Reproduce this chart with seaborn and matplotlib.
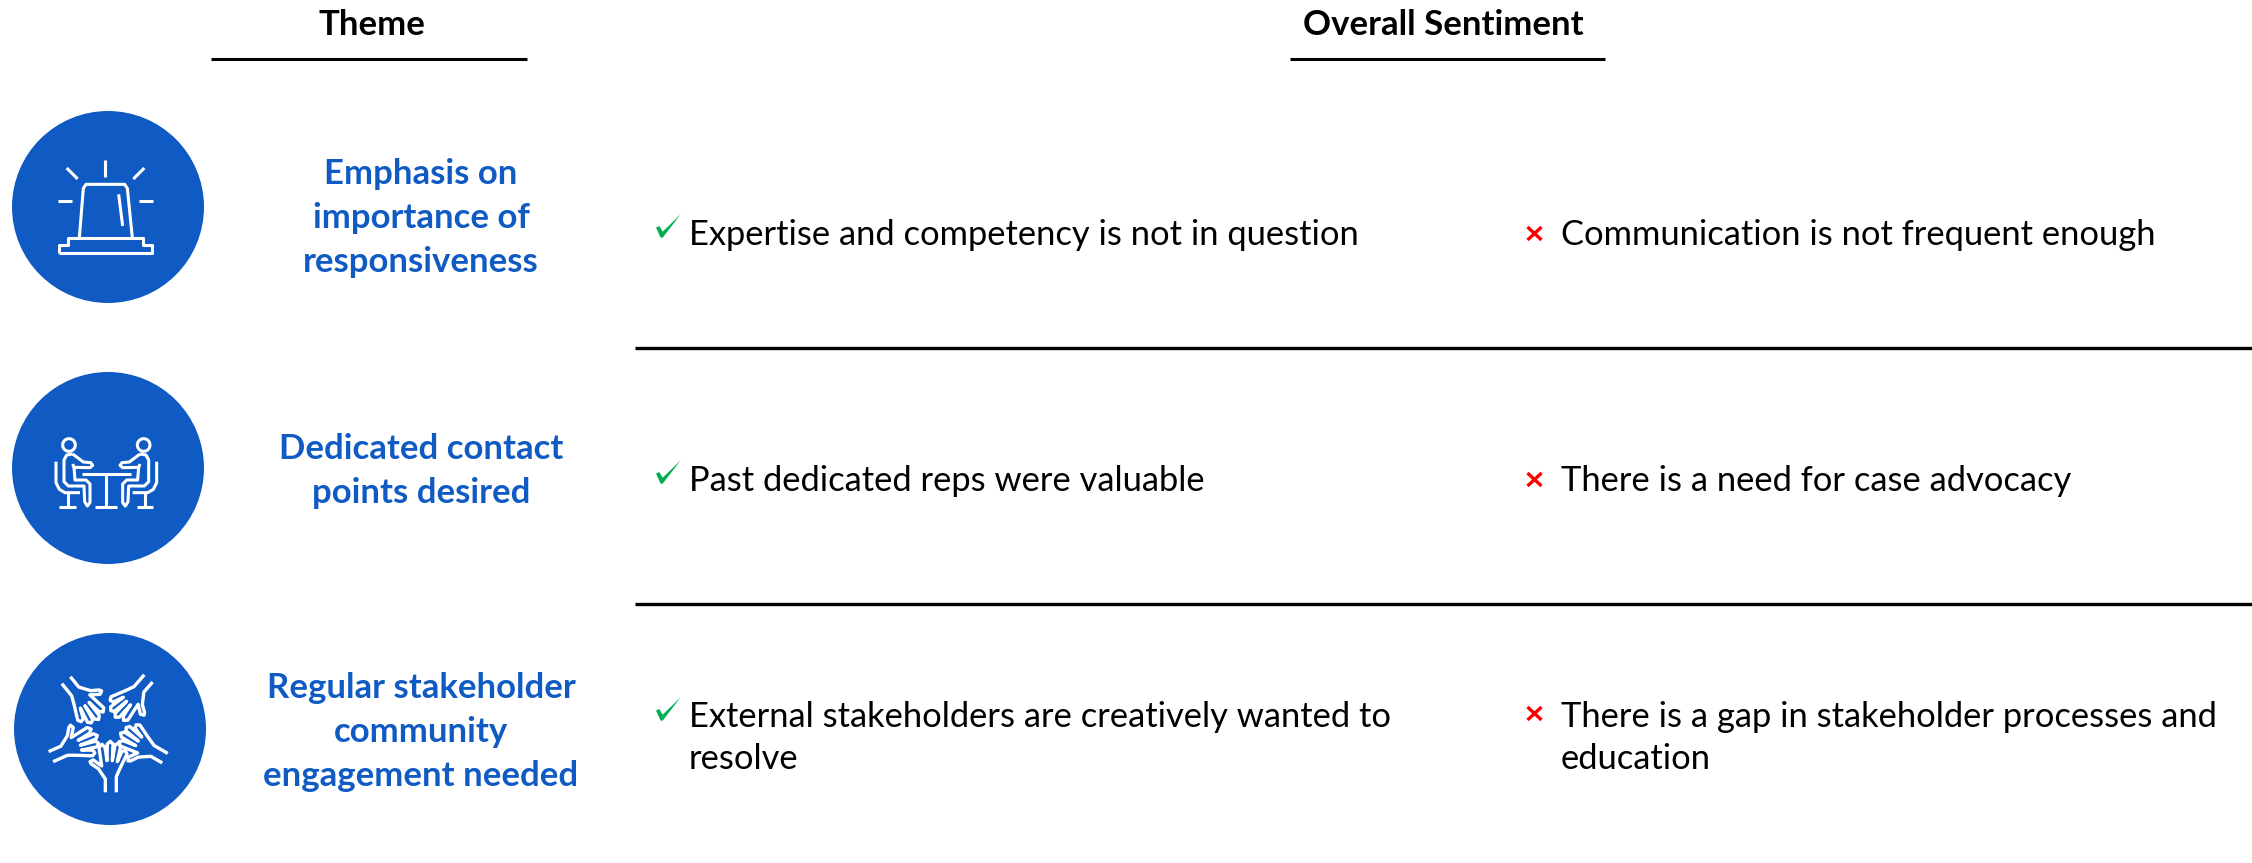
import numpy as np
import matplotlib
matplotlib.use("Agg")
import matplotlib.pyplot as plt
from matplotlib.patches import Circle, Polygon
import seaborn as sns

headers = ["Theme", "Overall Sentiment"]
themes = [
    "Emphasis on\nimportance of\nresponsiveness",
    "Dedicated contact\npoints desired",
    "Regular stakeholder\ncommunity\nengagement needed",
]
positives = [
    "Expertise and competency is not in question",
    "Past dedicated reps were valuable",
    "External stakeholders are creatively wanted to\nresolve",
]
negatives = [
    "Communication is not frequent enough",
    "There is a need for case advocacy",
    "There is a gap in stakeholder processes and\neducation",
]

BLUE = "#105BC3"
GREEN = "#00B050"
RED = "#FF0000"
FONT = "Lato"
W, H = 2252, 863

sns.set_theme(style="white")
plt.rcParams["font.family"] = [FONT, "DejaVu Sans"]
fig = plt.figure(figsize=(W / 100, H / 100), dpi=100, facecolor="white")
ax = fig.add_axes([0, 0, 1, 1])
ax.set_xlim(0, W)
ax.set_ylim(H, 0)
ax.axis("off")

# headers
for label, cx, x0, x1 in zip(headers, [372, 1443], [211, 1290], [527, 1605]):
    ax.text(cx, 25, label, ha="center", va="center", fontsize=25, fontweight="bold", color="black")
    ax.plot([x0, x1], [59, 59], color="black", lw=2.2, solid_capstyle="butt")
# row separators
for y in [348, 604]:
    ax.plot([635, W], [y, y], color="black", lw=2.4, solid_capstyle="butt")

def stroke(pts, ox, oy, lw=2.2, close=False):
    p = np.array(pts, float) / 3
    if close:
        p = np.vstack([p, p[:1]])
    ax.plot(p[:, 0] + ox, p[:, 1] + oy, color="white", lw=lw,
            solid_capstyle="butt", solid_joinstyle="round", zorder=3)

# circles
for c in [(108, 207), (108, 468), (110, 729)]:
    ax.add_patch(Circle(c, 96, fc=BLUE, ec="none", zorder=2))

# beacon icon
ox, oy = 0, 90
for seg in [
    [(316, 210), (316, 260)], [(200, 234), (233, 267)], [(433, 234), (400, 267)],
    [(174, 333), (216, 333)], [(417, 333), (459, 333)], [(356, 313), (368, 408)],
    [(238, 443), (250, 295), (258, 283), (374, 283), (382, 295), (397, 443)],
    [(177, 490), (177, 465), (203, 465), (203, 444), (430, 444), (430, 465), (456, 465), (456, 490), (177, 490)],
]:
    stroke(seg, ox, oy)

# meeting icon
ox, oy = 0, 360
t = np.linspace(0, 2 * np.pi, 40)
for cx in [207, 431]:
    stroke(np.c_[cx + 19 * np.cos(t), 255 + 19 * np.sin(t)], ox, oy)
left_person = [
    [(218, 282), (200, 285), (192, 300), (192, 365), (205, 378), (252, 378), (254, 425), (262, 438), (270, 428), (270, 372), (258, 360), (225, 360), (222, 322)],
    [(218, 282), (250, 306), (272, 308), (278, 316), (270, 323), (222, 322), (218, 312)],
    [(168, 305), (168, 368), (178, 388), (195, 398), (240, 398)],
    [(203, 398), (203, 440)], [(178, 440), (228, 440)],
]
for seg in left_person:
    stroke(seg, ox, oy)
    stroke([(638 - x, y) for x, y in seg], ox, oy)
stroke([(245, 342), (393, 342)], ox, oy)
stroke([(319, 342), (319, 440)], ox, oy)
stroke([(286, 440), (352, 440)], ox, oy)

# hands icon
hand = np.array([
    (316, 487), (316, 447), (295, 416), (274, 402), (270, 395), (280, 390), (305, 408),
    (297, 352), (306, 343), (315, 352), (321, 392), (322, 342), (331, 334), (339, 342), (337, 392),
    (345, 345), (354, 340), (362, 348), (352, 395), (366, 364), (376, 362), (381, 372), (360, 415),
    (349, 440), (349, 487),
], float)
centre = np.array([325.0, 295.0])
for deg in [0, 60, 139, 219, 294]:
    a = np.radians(deg)
    v = hand - centre
    r = np.c_[v[:, 0] * np.cos(a) + v[:, 1] * np.sin(a), -v[:, 0] * np.sin(a) + v[:, 1] * np.cos(a)] + centre
    stroke(r, 0, 630, lw=2.4)

# theme labels
for label, y in zip(themes, [218, 471, 732]):
    ax.text(421, y, label, ha="center", va="center", fontsize=25, fontweight="bold",
            color=BLUE, linespacing=1.45)

# sentiment rows
check = np.array([(48, 113), (58, 108), (68, 125), (122, 73), (68, 143), (62, 143)], float) / 3
for i, (pos, neg, y) in enumerate(zip(positives, negatives, [235, 481, 738])):
    dy = {0: 0, 1: 246, 2: 483}[i]
    xdy = {0: 0, 1: 246, 2: 480}[i]
    ax.add_patch(Polygon(check + [640, 190 + dy], fc=GREEN, ec="none"))
    ax.plot([1527.5, 1541.5], [227 + xdy, 240 + xdy], color=RED, lw=2.4, solid_capstyle="butt")
    ax.plot([1527.5, 1541.5], [240 + xdy, 227 + xdy], color=RED, lw=2.4, solid_capstyle="butt")
    ax.text(689, y, pos, ha="left", va="center", fontsize=24.8, color="black", linespacing=1.37)
    ax.text(1561, y, neg, ha="left", va="center", fontsize=24.8, color="black", linespacing=1.37)

fig.savefig("out.png", dpi=100, facecolor="white")
